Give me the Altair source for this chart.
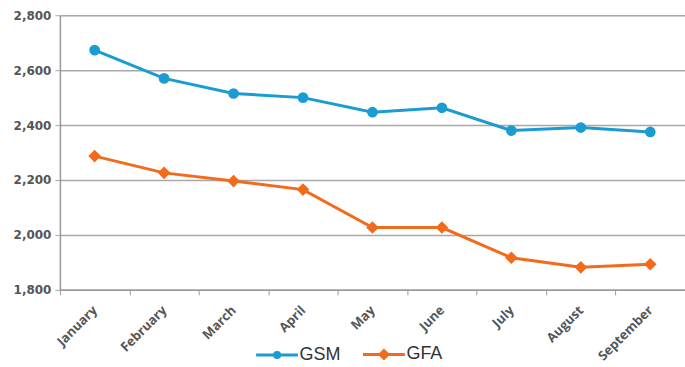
import altair as alt
import pandas as pd

# Monthly values for the two series
months = ["January", "February", "March", "April", "May", "June",
          "July", "August", "September"]
gsm = [2673, 2570, 2515, 2500, 2447, 2463, 2380, 2391, 2375]
gfa = [2287, 2226, 2196, 2165, 2027, 2027, 1917, 1882, 1893]
series = ["GSM", "GFA"]
colors = ["#1a9bd2", "#f26b1d"]
y_ticks = [1800, 2000, 2200, 2400, 2600, 2800]

rows = []
for m, a, b in zip(months, gsm, gfa):
    rows.append({"month": m, "series": "GSM", "value": a})
    rows.append({"month": m, "series": "GFA", "value": b})
df = pd.DataFrame(rows)

# legend glyphs: a short stroked line with the series marker on it
legend_shapes = [
    "M-1,0H1 M-0.12,0A0.12,0.12 0 1,0 0.12,0A0.12,0.12 0 1,0 -0.12,0Z",
    "M-1,0H1 M0,-0.19L0.19,0L0,0.19L-0.19,0Z",
]

x_enc = alt.X(
    "month:N",
    sort=months,
    bandPosition=0.5,
    scale=alt.Scale(type="band", domain=months, paddingInner=0, paddingOuter=0),
    axis=alt.Axis(
        title=None,
        labelAngle=-45,
        labelAlign="right",
        labelBaseline="middle",
        labelFont="Open Sans",
        labelFontWeight="bold",
        labelFontSize=13,
        labelColor="#555555",
        labelPadding=13,
        tickBand="extent",
        tickSize=5,
        tickColor="#9a9a9a",
        domainColor="#9a9a9a",
        domainWidth=1.5,
        grid=False,
    ),
)
y_enc = alt.Y(
    "value:Q",
    scale=alt.Scale(domain=[1800, 2800], nice=False, zero=False),
    axis=alt.Axis(
        title=None,
        values=y_ticks,
        format=",.0f",
        labelFont="DejaVu Sans",
        labelFontWeight="bold",
        labelFontSize=12,
        labelColor="#555555",
        labelPadding=4,
        tickSize=5,
        tickColor="#a8a8a8",
        domainColor="#9a9a9a",
        domainWidth=1.5,
        gridColor="#a8a8a8",
        gridWidth=1.5,
    ),
)
color_scale = alt.Scale(domain=series, range=colors)

base = alt.Chart(df)

legend_cfg = alt.Legend(
    title=None,
    orient="none",
    direction="horizontal",
    legendX=195,
    legendY=317,
    labelFont="Liberation Sans",
    labelFontSize=18,
    labelColor="#333333",
    labelOffset=0,
    columnPadding=15,
    symbolSize=1764,
    symbolStrokeWidth=3,
)

# line layer carries the series legend
lines = base.mark_line(strokeWidth=3).encode(
    x=x_enc, y=y_enc,
    color=alt.Color("series:N", scale=color_scale, legend=legend_cfg),
    shape=alt.Shape("series:N", scale=alt.Scale(domain=series, range=legend_shapes),
                    legend=legend_cfg),
)

gsm_pts = base.transform_filter(alt.datum.series == "GSM").mark_point(
    filled=True, opacity=1, shape="circle", size=115
).encode(x=x_enc, y=y_enc,
         color=alt.Color("series:N", scale=color_scale, legend=None))

gfa_pts = base.transform_filter(alt.datum.series == "GFA").mark_point(
    filled=True, opacity=1, shape="diamond", size=160
).encode(x=x_enc, y=y_enc,
         color=alt.Color("series:N", scale=color_scale, legend=None))

chart = alt.layer(lines, gsm_pts, gfa_pts).properties(
    width=626,
    height=275,
    autosize=alt.AutoSizeParams(type="none"),
    padding={"left": 60, "top": 15, "right": 0, "bottom": 77},
).configure_view(stroke=None).configure(background="white")

chart.save("out.html", embed_options={"renderer": "svg", "actions": False})
